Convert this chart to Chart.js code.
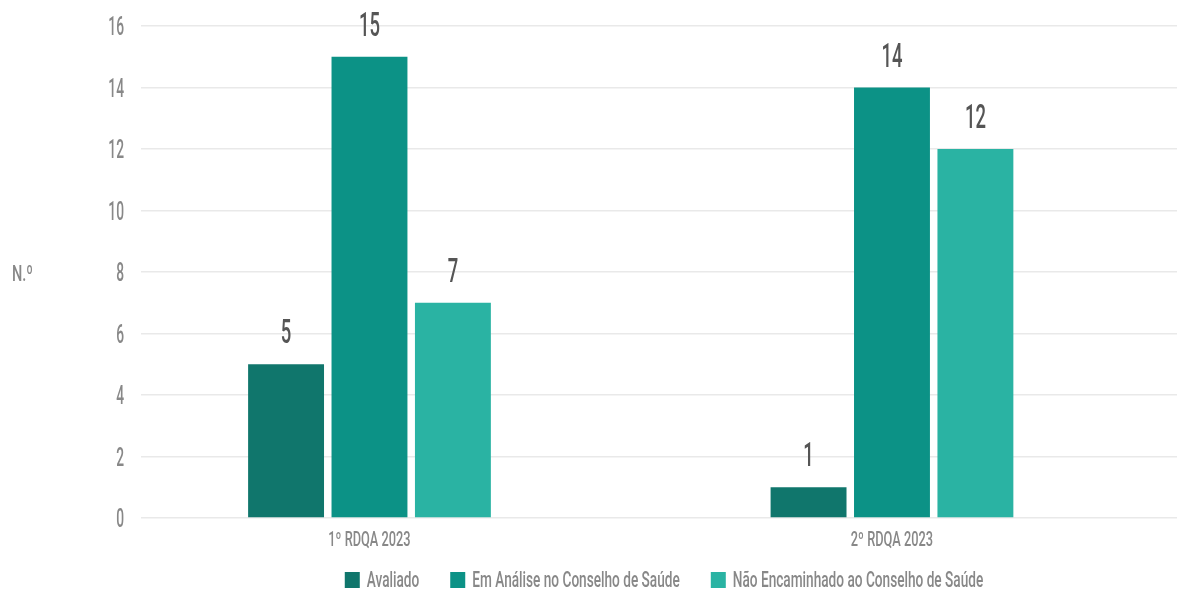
<!DOCTYPE html>
<html>
<head>
<meta charset="utf-8">
<script src="https://cdn.jsdelivr.net/npm/chart.js@4.4.0/dist/chart.umd.min.js"></script>
<style>
  html, body { margin: 0; padding: 0; background: #fff; }
  #wrap { width: 1177px; height: 591px; }
</style>
</head>
<body>
<div id="wrap"><canvas id="barChart"></canvas></div>
<script>
// Dados do gráfico
const categorias = ['1º RDQA 2023', '2º RDQA 2023'];
const series = ['Avaliado', 'Em Análise no Conselho de Saúde', 'Não Encaminhado ao Conselho de Saúde'];
const avaliado = [5, 1];
const emAnalise = [15, 14];
const naoEncaminhado = [7, 12];
const yTicks = [0, 2, 4, 6, 8, 10, 12, 14, 16];
const cores = ['#10766c', '#0c9286', '#2ab3a3'];

const fonte = 'Roboto, sans-serif';

// Texto estreito (fonte condensada simulada)
function texto(ctx, str, x, y, size, sx, align, color) {
	ctx.save();
	ctx.font = '500 ' + size + 'px ' + fonte;
	ctx.fillStyle = color;
	ctx.textBaseline = 'alphabetic';
	const w = ctx.measureText(str).width * sx;
	let x0 = x;
	if (align === 'center') x0 = x - w / 2;
	else if (align === 'right') x0 = x - w;
	ctx.translate(x0, y);
	ctx.scale(sx, 1);
	ctx.textAlign = 'left';
	ctx.fillText(str, 0, 0);
	ctx.restore();
	return w;
}

function larguraTexto(ctx, str, size, sx) {
	ctx.save();
	ctx.font = '500 ' + size + 'px ' + fonte;
	const w = ctx.measureText(str).width * sx;
	ctx.restore();
	return w;
}

// Rótulos dos eixos, valores e legenda
const textos = {
	id: 'textos',
	afterDatasetsDraw(chart) {
		const ctx = chart.ctx;
		const x = chart.scales.x;
		const y = chart.scales.y;

		// valores acima das barras
		chart.data.datasets.forEach((ds, i) => {
			chart.getDatasetMeta(i).data.forEach((bar, j) => {
				texto(ctx, String(ds.data[j].y), bar.x, bar.y - 21, 33, 0.56, 'center', '#555555');
			});
		});

		// ticks do eixo Y
		yTicks.forEach(v => {
			texto(ctx, String(v), 124, y.getPixelForValue(v) + 9, 25, 0.55, 'right', '#888888');
		});

		// ticks do eixo X
		categorias.forEach((c, i) => {
			texto(ctx, c, x.getPixelForValue(i), 546, 20, 0.64, 'center', '#888888');
		});

		// título do eixo Y
		texto(ctx, 'N.º', 12, 281, 22, 0.66, 'left', '#888888');

		// legenda
		const size = 22, sx = 0.62, box = 15, gapTxt = 7, gapItem = 31;
		const larguras = series.map(s => larguraTexto(ctx, s, size, sx));
		let total = larguras.reduce((a, b) => a + b, 0) + series.length * (box + gapTxt) + (series.length - 1) * gapItem;
		let cx = 664 - total / 2;
		series.forEach((s, i) => {
			ctx.fillStyle = cores[i];
			ctx.fillRect(cx, 572, box, 16);
			cx += box + gapTxt;
			texto(ctx, s, cx, 587, size, sx, 'left', '#888888');
			cx += larguras[i] + gapItem;
		});
	}
};

const toPoints = arr => arr.map((v, i) => ({ x: i, y: v }));

new Chart(document.getElementById('barChart'), {
	type: 'bar',
	data: {
		datasets: [
			{ label: series[0], data: toPoints(avaliado), backgroundColor: cores[0] },
			{ label: series[1], data: toPoints(emAnalise), backgroundColor: cores[1] },
			{ label: series[2], data: toPoints(naoEncaminhado), backgroundColor: cores[2] }
		]
	},
	options: {
		responsive: true,
		maintainAspectRatio: false,
		animation: false,
		categoryPercentage: 0.479,
		barPercentage: 0.91,
		layout: { padding: { top: 26, right: 0, bottom: 65, left: 0 } },
		plugins: {
			legend: { display: false },
			tooltip: { enabled: false }
		},
		scales: {
			x: {
				type: 'linear',
				offset: false,
				bounds: 'data',
				min: -0.4373,
				max: 1.5455,
				afterBuildTicks: scale => {
					scale.ticks = categorias.map((c, i) => ({ value: i }));
				},
				grid: { display: false, offset: false },
				border: { display: false },
				ticks: { display: false }
			},
			y: {
				min: 0,
				max: 16,
				afterBuildTicks: scale => {
					scale.ticks = yTicks.map(v => ({ value: v }));
				},
				afterFit: scale => { scale.width = 141; },
				grid: { color: '#e9e9e9', lineWidth: 1.5, drawTicks: false },
				border: { display: false },
				ticks: { display: false }
			}
		}
	},
	plugins: [textos]
});
</script>
</body>
</html>
